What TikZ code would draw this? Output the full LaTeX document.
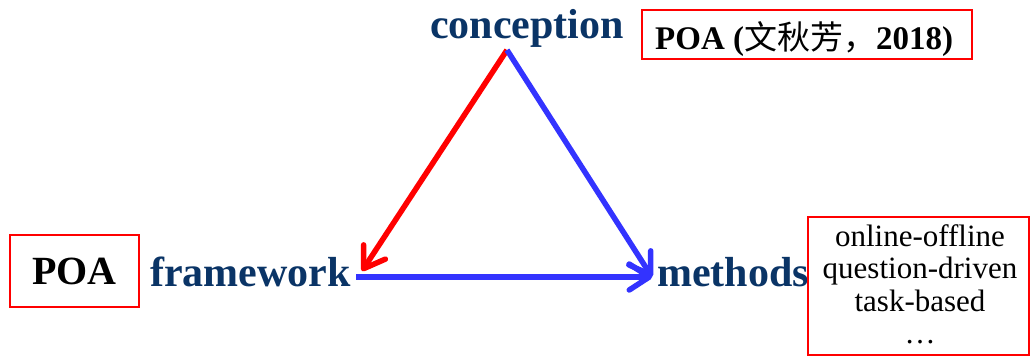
\documentclass[tikz,border=0pt]{standalone}
\usepackage{fontspec}
\setmainfont{Liberation Serif}
\newfontfamily\cjk{Noto Sans CJK SC}
\usetikzlibrary{arrows.meta}
\definecolor{navy}{RGB}{10,52,102}
\definecolor{lblue}{RGB}{51,51,255}
\tikzset{
  concept/.style={font=\fontsize{42}{42}\selectfont\bfseries, text=navy, inner sep=0pt},
  redbox/.style={draw=red, line width=2pt, inner sep=0pt},
  link/.style={line width=5.5pt, -{Straight Barb[length=20pt,width=26pt,round]}},
}
\begin{document}
\begin{tikzpicture}[x=1pt,y=-1pt]
\useasboundingbox (0,0) rectangle (1031,357);
% concept labels
\node[concept, anchor=base] (conc) at (527,38) {conception};
\node[concept, anchor=base west] (frame) at (150,286) {framework};
\node[concept, anchor=base west] (meth) at (657,286) {methods};
% corner coordinates of the triangle
\coordinate (A) at (507,50);
\coordinate (L) at (362,271);
\coordinate (L0) at (356,277);
\coordinate (R) at (652,277);
% boxes
\node[redbox, minimum width=129pt, minimum height=72pt,
      font=\fontsize{40}{40}\selectfont\bfseries] (poa) at (74.5,271) {POA};
\node[redbox, minimum width=330pt, minimum height=49pt] (poaref) at (807,34.5) {};
\node[anchor=base west, inner sep=0pt,
      font=\fontsize{33}{33}\selectfont\bfseries] (poareftext) at (655,49)
      {POA ({\cjk\mdseries 文秋芳，}2018)};
\node[redbox, minimum width=221pt, minimum height=138pt] (mbox) at (918.5,286) {};
\node[anchor=north, inner sep=0pt, align=center,
      font=\fontsize{31}{32.5}\selectfont] (mtext) at (920,224)
      {online-offline\\question-driven\\task-based\\\ldots};
% connectors
\draw[link, red] (A) -- (L);
\draw[link, lblue] (A) -- (R);
\draw[link, lblue] (L0) -- (R);
\end{tikzpicture}
\end{document}
